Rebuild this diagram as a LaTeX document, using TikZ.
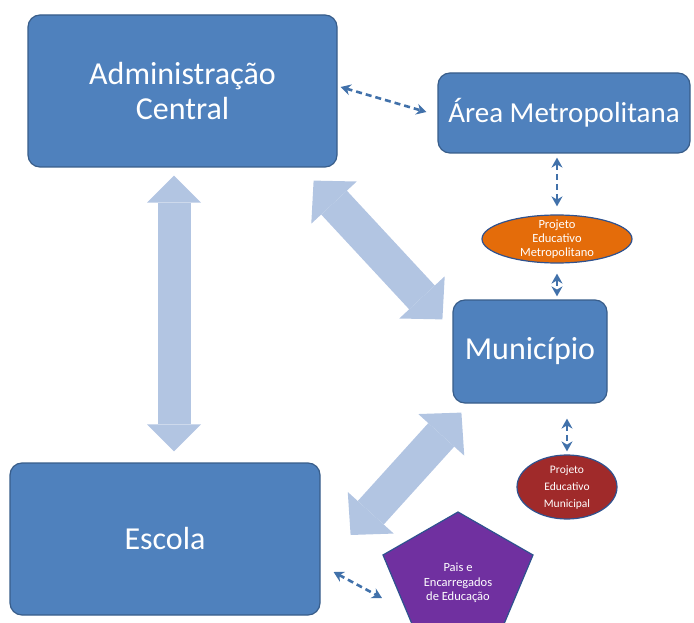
\documentclass[tikz,border=0pt]{standalone}
\usepackage{fontspec}
\setmainfont{Carlito}
\usetikzlibrary{arrows.meta,calc,shapes.geometric}

\definecolor{boxblue}{RGB}{79,129,189}
\definecolor{boxline}{RGB}{56,93,138}
\definecolor{lightarrow}{RGB}{178,197,226}
\definecolor{dashblue}{RGB}{65,113,170}
\definecolor{metroorange}{RGB}{228,108,10}
\definecolor{municred}{RGB}{160,42,42}
\definecolor{paispurple}{RGB}{112,48,160}
\definecolor{shapeline}{RGB}{47,82,143}

\begin{document}
\begin{tikzpicture}[x=1pt,y=1pt,yscale=-1,xscale=1,
  caixa/.style={draw=boxline,line width=1.2pt,fill=boxblue,rounded corners=12pt,text=white,align=center,inner sep=0pt},
  projeto/.style={ellipse,draw=shapeline,line width=1.2pt,text=white,align=center,inner sep=0pt},
  seta/.style={color=lightarrow,line width=33pt,{Triangle[width=54pt,length=27pt,line width=0pt]}-{Triangle[width=54pt,length=27pt,line width=0pt]}},
  setadiag/.style={color=lightarrow,line width=35pt,{Triangle[width=62pt,length=30pt,line width=0pt]}-{Triangle[width=62pt,length=30pt,line width=0pt]}},
  ligacao/.style={color=dashblue,line width=2.6pt,dash pattern=on 6pt off 4pt,{Stealth[length=10pt,width=11pt]}-{Stealth[length=10pt,width=11pt]}}]
\useasboundingbox (0,0) rectangle (694,623);

%Shape: Rectangle
\node[caixa,minimum width=309pt,minimum height=152pt,font=\fontsize{32}{35}\selectfont] (admin) at (182.5,91) {Administração\\Central};
%Shape: Rectangle
\node[caixa,minimum width=252pt,minimum height=80pt,font=\fontsize{29}{32}\selectfont] (area) at (564,113) {Área Metropolitana};
%Shape: Rectangle
\node[caixa,minimum width=154pt,minimum height=103pt,font=\fontsize{32}{36}\selectfont] (muni) at (530,351.5) {Município};
%Shape: Rectangle
\node[caixa,minimum width=310pt,minimum height=152pt,font=\fontsize{32}{36}\selectfont] (escola) at (165,539) {Escola};

%Shape: Ellipse
\node[projeto,fill=metroorange,minimum width=150pt,minimum height=48pt,inner ysep=-5pt,font=\fontsize{12.5}{14}\selectfont] (pem) at (557,239) {Projeto\\Educativo\\Metropolitano};
%Shape: Ellipse
\node[projeto,fill=municred,minimum width=100pt,minimum height=64pt,font=\fontsize{11.5}{17}\selectfont] (pmu) at (567,487) {Projeto\\Educativo\\Municipal};

%Shape: Pentagon
\coordinate (pent) at (458,574);
\draw[draw=shapeline,line width=1.2pt,fill=paispurple] ($(pent)+(0,-62)$) -- ($(pent)+(75,-19)$) -- ($(pent)+(46,50)$) -- ($(pent)+(-46,50)$) -- ($(pent)+(-75,-19)$) -- cycle;
% Text Node
\node[text=white,align=center,inner sep=0pt,font=\fontsize{12.5}{14.5}\selectfont] (pais) at (458,583) {Pais e\\Encarregados\\de Educação};
\coordinate (paisW) at ($(pent)+(-76,24)$);

%Block Arrows
\draw[seta] ($(admin.south)+(-8.5,8)$) -- ($(escola.north)+(9,-11)$);
\draw[setadiag] ($(admin.south east)+(-24,13)$) -- ($(muni.north west)+(-10,20)$);
\draw[setadiag] ($(escola.east)+(30,-4)$) -- ($(muni.south west)+(9,9)$);

%Dashed Lines
\draw[ligacao] ($(admin.east)+(3,-4)$) -- ($(area.west)+(-11,-1)$);
\draw[ligacao] ($(area.south -| pem.north)+(0,4)$) -- ($(pem.north)+(0,-8)$);
\draw[ligacao] ($(pem.south)+(0,10)$) -- ($(pem.south |- muni.north)+(0,-3)$);
\draw[ligacao] ($(muni.south -| pmu.north)+(0,15)$) -- ($(pmu.north)+(0,-3)$);
\draw[ligacao] ($(escola.east)+(13,33)$) -- (paisW);

\end{tikzpicture}
\end{document}
